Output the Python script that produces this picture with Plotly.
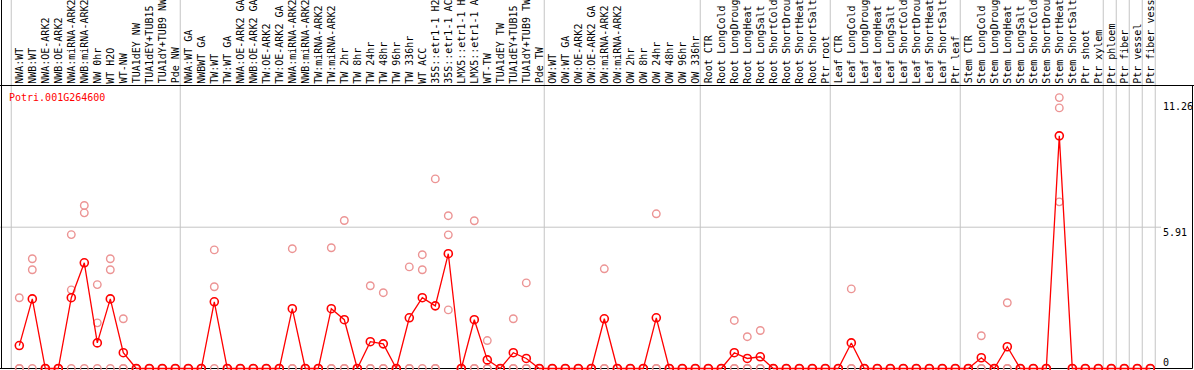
import plotly.graph_objects as go

# ---------------- data ----------------
gene_id = "Potri.001G264600"

group_sizes = [13, 28, 12, 10, 10, 11, 1, 1, 1, 1]

# sample labels as visible in the header (the header shows at most 14 characters)
labels = [
    # NW
    "NWA:WT", "NWB:WT", "NWA:OE-ARK2", "NWB:OE-ARK2", "NWA:miRNA-ARK2", "NWB:miRNA-ARK2",
    "NW 0hr", "WT H2O", "WT-NW", "TUA1dEY NW", "TUA1dEY+TUB15", "TUA1dY+TUB9 NW", "Pde NW",
    # TW / GA
    "NWA:WT GA", "NWBWT GA", "TW:WT", "TW:WT GA", "NWA:OE-ARK2 GA", "NWB:OE-ARK2 GA",
    "TW:OE-ARK2", "TW:OE-ARK2 GA", "NWA:miRNA-ARK2", "NWB:miRNA-ARK2", "TW:miRNA-ARK2",
    "TW:miRNA-ARK2", "TW 2hr", "TW 8hr", "TW 24hr", "TW 48hr", "TW 96hr", "TW 336hr",
    "WT ACC", "35S::etr1-1 H2", "35S::etr1-1 AC", "LMX5::etr1-1 H", "LMX5::etr1-1 A",
    "WT-TW", "TUA1dEY TW", "TUA1dEY+TUB15", "TUA1dY+TUB9 TW", "Pde TW",
    # OW
    "OW:WT", "OW:WT GA", "OW:OE-ARK2", "OW:OE-ARK2 GA", "OW:miRNA-ARK2", "OW:miRNA-ARK2",
    "OW 2hr", "OW 8hr", "OW 24hr", "OW 48hr", "OW 96hr", "OW 336hr",
    # Root
    "Root CTR", "Root LongCold", "Root LongDroug", "Root LongHeat", "Root LongSalt",
    "Root ShortCold", "Root ShortDrou", "Root ShortHeat", "Root ShortSalt", "Ptr root",
    # Leaf
    "Leaf CTR", "Leaf LongCold", "Leaf LongDroug", "Leaf LongHeat", "Leaf LongSalt",
    "Leaf ShortCold", "Leaf ShortDrou", "Leaf ShortHeat", "Leaf ShortSalt", "Ptr leaf",
    # Stem
    "Stem CTR", "Stem LongCold", "Stem LongDroug", "Stem LongHeat", "Stem LongSalt",
    "Stem ShortCold", "Stem ShortDrou", "Stem ShortHeat", "Stem ShortSalt", "Ptr shoot",
    "Ptr xylem",
    # tissues
    "Ptr phloem", "Ptr fiber", "Ptr vessel", "Ptr fiber vess",
]

means = [
    0.96, 2.91, 0, 0, 2.96, 4.42, 1.07, 2.91, 0.66, 0, 0, 0, 0,
    0, 0, 2.79, 0, 0, 0, 0, 0, 2.50, 0, 0, 2.50, 2.04, 0, 1.12, 1.03, 0, 2.12,
    2.96, 2.62, 4.80, 0, 2.04, 0.36, 0, 0.66, 0.42, 0,
    0, 0, 0, 0, 2.08, 0, 0, 0, 2.12, 0, 0, 0,
    0, 0, 0.66, 0.42, 0.49, 0, 0, 0, 0, 0,
    0, 1.07, 0, 0, 0, 0, 0, 0, 0, 0,
    0, 0.45, 0, 0.91, 0, 0, 0, 9.73, 0, 0, 0,
    0, 0, 0, 0,
]

rep_a = [
    2.96, 4.59, 0, 0, 5.60, 6.82, 3.51, 4.59, 2.08, 0, 0, 0, 0,
    0, 0, 4.96, 0, 0, 0, 0, 0, 5.01, 0, 0, 5.05, 6.19, 0, 3.46, 3.17, 0, 4.25,
    4.76, 7.93, 6.39, 0, 6.18, 1.17, 0, 2.08, 3.58, 0,
    0, 0, 0, 0, 4.17, 0, 0, 0, 6.47, 0, 0, 0,
    0, 0, 2.01, 1.33, 1.59, 0, 0, 0, 0, 0,
    0, 3.33, 0, 0, 0, 0, 0, 0, 0, 0,
    0, 1.37, 0, 2.75, 0, 0, 0, 11.33, 0, 0, 0,
    0, 0, 0, 0,
]

rep_b = [
    0, 4.13, 0, 0, 3.29, 6.51, 1.91, 4.13, 0, 0, 0, 0, 0,
    0, 0, 3.42, 0, 0, 0, 0, 0, 0, 0, 0, 0, 0, 0, 0, 0, 0, 0,
    4.13, 0, 5.59, 0, 0, 0, 0, 0, 0, 0,
    0, 0, 0, 0, 0, 0, 0, 0, 0, 0, 0, 0,
    0, 0, 0, 0, 0, 0, 0, 0, 0, 0,
    0, 0, 0, 0, 0, 0, 0, 0, 0, 0,
    0, 0, 0, 0, 0, 0, 0, 10.90, 0, 0, 0,
    0, 0, 0, 0,
]

rep_c = [
    0, 0, 0, 0, 0, 0, 0, 0, 0, 0, 0, 0, 0,
    0, 0, 0, 0, 0, 0, 0, 0, 0, 0, 0, 0, 0, 0, 0, 0, 0, 0,
    0, 0, 2.45, 0, 0, 0, 0, 0, 0, 0,
    0, 0, 0, 0, 0, 0, 0, 0, 0, 0, 0, 0,
    0, 0, 0, 0, 0, 0, 0, 0, 0, 0,
    0, 0, 0, 0, 0, 0, 0, 0, 0, 0,
    0, 0, 0, 0, 0, 0, 0, 6.97, 0, 0, 0,
    0, 0, 0, 0,
]

y_tick_vals = [11.26, 5.91, 0]
y_tick_text = ["11.26", "5.91", "0"]

# ---------------- layout geometry ----------------
W, H = 1194, 370
X0_PX, DX_PX = 19.3, 13.0      # first column centre, column pitch
ZERO_PX, PPU = 368.5, 23.91     # pixel row of value 0, pixels per unit
HEADER_PX = 85.5
RIGHT_PX = 1192.5
MONO = "DejaVu Sans Mono, Liberation Mono, monospace"
RED = "#ff0000"
PINK = "#ec9494"
GRID = "#c4c4c4"

n = len(labels)
xs = list(range(n))

xr = [-X0_PX / DX_PX, -X0_PX / DX_PX + W / DX_PX]
yr = [(ZERO_PX - H) / PPU, ZERO_PX / PPU]


def py(px):
    return 1 - px / H


def pxx(px):
    return px / W


fig = go.Figure()

# replicate points
rx, ry = [], []
for i in xs:
    for r in (rep_a, rep_b, rep_c):
        rx.append(i)
        ry.append(r[i])
fig.add_trace(go.Scatter(
    x=rx, y=ry, mode="markers",
    marker=dict(symbol="circle-open", size=7.5, color=PINK, line=dict(width=1.4, color=PINK)),
    hoverinfo="skip", showlegend=False, cliponaxis=True,
))

# mean line
fig.add_trace(go.Scatter(
    x=xs, y=means, mode="lines+markers",
    line=dict(color=RED, width=1.3),
    marker=dict(symbol="circle-open", size=8, color=RED, line=dict(width=1.6, color=RED)),
    showlegend=False, cliponaxis=True,
))

shapes = []
# group boundaries
start = 0
bounds = [0]
for g in group_sizes:
    start += g
    bounds.append(start)
for b in bounds:
    shapes.append(dict(type="line", xref="x", yref="paper", x0=b - 0.62, x1=b - 0.62,
                       y0=py(ZERO_PX), y1=1, line=dict(color=GRID, width=1), layer="below"))
# horizontal grid line
shapes.append(dict(type="line", xref="paper", yref="y", x0=0, x1=pxx(1161),
                   y0=y_tick_vals[1], y1=y_tick_vals[1], line=dict(color=GRID, width=1), layer="below"))
# black frame lines
shapes.append(dict(type="line", xref="paper", yref="paper", x0=0, x1=1,
                   y0=py(HEADER_PX), y1=py(HEADER_PX), line=dict(color="black", width=1)))
shapes.append(dict(type="line", xref="paper", yref="paper", x0=pxx(1.5), x1=pxx(1.5),
                   y0=py(ZERO_PX), y1=1, line=dict(color="black", width=1), layer="below"))
shapes.append(dict(type="line", xref="paper", yref="paper", x0=pxx(RIGHT_PX), x1=pxx(RIGHT_PX),
                   y0=py(ZERO_PX), y1=py(HEADER_PX), line=dict(color="black", width=1)))
shapes.append(dict(type="line", xref="paper", yref="y", x0=0, x1=pxx(RIGHT_PX),
                   y0=0, y1=0, line=dict(color="black", width=1), layer="below"))

annotations = []
for i, lab in enumerate(labels):
    annotations.append(dict(
        x=i, xref="x", y=py(HEADER_PX - 1), yref="paper",
        text=lab, textangle=-90, showarrow=False,
        xanchor="center", yanchor="bottom",
        font=dict(family=MONO, size=10, color="black"), borderpad=0,
    ))

annotations.append(dict(
    x=pxx(8), xref="paper", y=py(97), yref="paper", text=gene_id, showarrow=False,
    xanchor="left", yanchor="middle", font=dict(family=MONO, size=10, color=RED), borderpad=0,
))

label_centres = [107, 232, 362]
for t, c in zip(y_tick_text, label_centres):
    annotations.append(dict(
        x=pxx(1162), xref="paper", y=py(c), yref="paper", text=t, showarrow=False,
        xanchor="left", yanchor="middle", font=dict(family=MONO, size=10, color="black"),
        borderpad=0,
    ))

fig.update_layout(
    width=W, height=H,
    margin=dict(l=0, r=0, t=0, b=0, pad=0),
    paper_bgcolor="white", plot_bgcolor="white",
    xaxis=dict(range=xr, visible=False, fixedrange=True),
    yaxis=dict(range=yr, visible=False, fixedrange=True),
    shapes=shapes, annotations=annotations,
    showlegend=False,
)

fig.write_html("out.html", config={"displayModeBar": False},
               post_script="document.body.style.margin='0';")
